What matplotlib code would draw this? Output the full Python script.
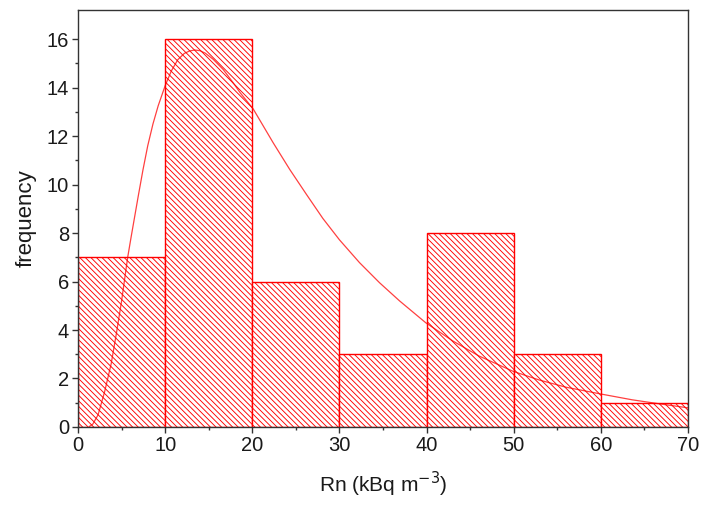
import matplotlib.pyplot as plt
import numpy as np

plt.rcParams['font.family'] = ['Liberation Sans', 'DejaVu Sans']
plt.rcParams['hatch.color'] = '#ff4a4a'
plt.rcParams['hatch.linewidth'] = 0.65

# histogram of Rn concentrations, 10 kBq/m3 bins
bin_edges = [0, 10, 20, 30, 40, 50, 60, 70]
counts = [7, 16, 6, 3, 8, 3, 1]

# fitted distribution curve, read point by point
fit_x = [1.3, 1.7, 2.3, 3.05, 3.8, 4.4, 5.0, 5.35, 5.7, 6.1, 6.9, 7.45, 8.0, 8.6,
         9.2, 10.0, 10.7, 11.45, 12.2, 12.8, 13.4, 14.0, 14.6, 15.5, 16.65,
         17.8, 18.6, 20.1, 22.4, 24.3, 26.2, 28.1, 30.0, 32.3, 34.6, 36.9,
         39.9, 43.0, 46.0, 49.9, 52.9, 56.0, 60.0, 63.6, 67.0, 70.0]
fit_y = [0.02, 0.12, 0.5, 1.45, 2.6, 3.85, 5.2, 6.1, 7.0, 7.85, 9.5, 10.6, 11.6,
         12.5, 13.25, 14.08, 14.68, 15.15, 15.41, 15.51, 15.55, 15.52, 15.42,
         15.17, 14.75, 14.2, 13.79, 13.12, 11.72, 10.62, 9.6, 8.6, 7.72, 6.78,
         5.95, 5.2, 4.3, 3.55, 2.93, 2.3, 1.94, 1.64, 1.36, 1.12, 0.94, 0.79]

fig = plt.figure(figsize=(7.01, 5.05), dpi=100)
ax = fig.add_axes([0.1113, 0.1545, 0.8702, 0.8257])

lefts = np.array(bin_edges[:-1])
widths = np.diff(bin_edges)
ax.bar(lefts, counts, width=widths, align='edge', facecolor='white',
       edgecolor='#ff0000', linewidth=1.0, hatch='\\' * 6)

ax.plot(fit_x, fit_y, color='#ff0000', linewidth=0.9, alpha=0.75)

ax.set_xlim(0, 70)
ax.set_ylim(0, 17.2)
ax.set_xticks(np.arange(0, 71, 10))
ax.set_xticks(np.arange(5, 70, 10), minor=True)
ax.set_yticks(np.arange(0, 17, 2))
ax.set_yticks(np.arange(1, 17, 2), minor=True)

ax.tick_params(which='major', length=4.5, width=1.0, color='#333333',
               labelsize=14.5, labelcolor='#1a1a1a', pad=2)
ax.tick_params(which='minor', length=2.3, width=1.0, color='#333333')
for s in ax.spines.values():
    s.set_color('#333333')
    s.set_linewidth(1.0)

ax.set_xlabel('Rn (kBq m$^{-3}$)', fontsize=15, color='#1a1a1a', labelpad=11)
ax.set_ylabel('frequency', fontsize=16, color='#1a1a1a', labelpad=7)

fig.savefig('out.png', dpi=100)
